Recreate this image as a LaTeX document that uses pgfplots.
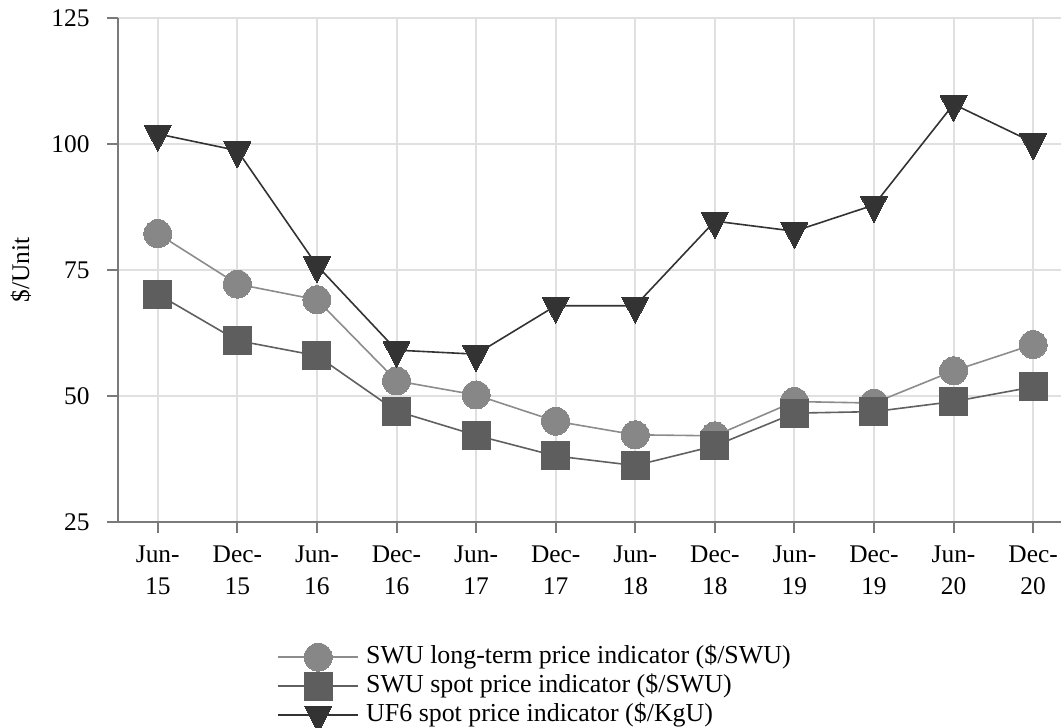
\documentclass[border=0pt]{standalone}
\usepackage{fontspec}
\setmainfont{Liberation Serif}
\usepackage{pgfplots}
\pgfplotsset{compat=1.18}
\definecolor{cLT}{HTML}{878787}
\definecolor{cLTl}{HTML}{8C8C8C}
\definecolor{cSP}{HTML}{5E5E5E}
\definecolor{cSPl}{HTML}{606060}
\definecolor{cUF}{HTML}{333333}
\definecolor{gridc}{HTML}{E0E0E0}
\definecolor{axc}{HTML}{7A7A7A}
\begin{document}
\begin{tikzpicture}
\begin{axis}[
  at={(0,0)}, anchor=south west,
  scale only axis, width=943bp, height=504bp,
  xmin=-0.5, xmax=11.35, ymin=25, ymax=125,
  xtick={0,...,11},
  xticklabels={Jun-\\15,Dec-\\15,Jun-\\16,Dec-\\16,Jun-\\17,Dec-\\17,Jun-\\18,Dec-\\18,Jun-\\19,Dec-\\19,Jun-\\20,Dec-\\20},
  ytick={25,50,75,100,125},
  grid=major, major grid style={draw=gridc, line width=2bp},
  axis x line*=bottom, axis y line*=left,
  axis line style={draw=axc, line width=2bp, -},
  tick style={draw=axc, line width=2bp},
  tick align=outside, major tick length=11bp,
  xtick pos=lower, ytick pos=left,
  /pgf/number format/assume math mode=true,
  xticklabel style={align=center, font=\fontsize{25.5}{32}\selectfont, yshift=-9bp},
  yticklabel style={font=\fontsize{25.5}{30}\selectfont, xshift=-14bp},
  ylabel={\$/Unit},
  ylabel style={at={(axis description cs:-0.1029,0.5)}, anchor=center, font=\fontsize{25.5}{30}\selectfont},
  legend style={at={(rel axis cs:0.1697,-0.239)}, anchor=north west, draw=none, fill=none,
    font=\fontsize{26}{30}\selectfont, row sep=0pt, column sep=8bp, inner sep=0pt,
    nodes={inner sep=0pt, text height=21bp, text depth=8bp}},
  legend cell align=left,
  legend image code/.code={\draw[overlay,mark repeat=2,mark phase=2,#1] plot coordinates {(0bp,0bp) (40bp,0bp) (80bp,0bp)}; \path[draw=none,fill=none] (0bp,-4bp) rectangle (80bp,4bp);},
]
\addplot[draw=cLTl, line width=1.6bp, mark=*, mark size=14bp, mark options={fill=cLT, draw=cLT, line width=0pt}]
  coordinates {(0,82.2) (1,72.2) (2,69.1) (3,53.0) (4,50.2) (5,45.0) (6,42.3) (7,42.1) (8,48.9) (9,48.6) (10,55.0) (11,60.2)};
\addlegendentry{SWU long-term price indicator (\$/SWU)}
\addplot[draw=cSPl, line width=1.6bp, mark=square*, mark size=14bp, mark options={fill=cSP, draw=cSP, line width=0pt}]
  coordinates {(0,70.2) (1,61.0) (2,58.0) (3,47.0) (4,42.2) (5,38.1) (6,36.2) (7,40.1) (8,46.6) (9,46.9) (10,48.9) (11,51.8)};
\addlegendentry{SWU spot price indicator (\$/SWU)}
\addplot[draw=cUF, line width=1.6bp, mark=triangle*, mark size=15.5bp, mark options={fill=cUF, draw=cUF, line width=0pt, rotate=180, yscale=1.12}]
  coordinates {(0,102.0) (1,98.7) (2,75.9) (3,59.1) (4,58.3) (5,67.9) (6,67.9) (7,84.7) (8,82.7) (9,87.9) (10,107.9) (11,100.3)};
\addlegendentry{UF6 spot price indicator (\$/KgU)}
\end{axis}
\pgfresetboundingbox
\path[use as bounding box] (-118bp,-206bp) rectangle (943bp,522bp);
\end{tikzpicture}
\end{document}
